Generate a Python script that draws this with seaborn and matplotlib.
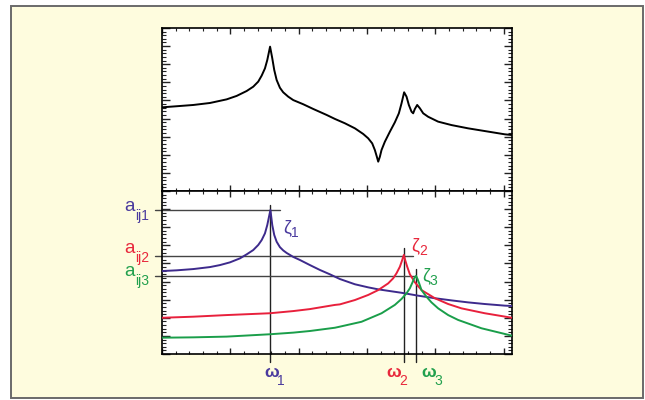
import numpy as np
import pandas as pd
import matplotlib
matplotlib.use("Agg")
import matplotlib.pyplot as plt
from matplotlib.patches import Rectangle
from matplotlib.ticker import MultipleLocator, NullFormatter
import seaborn as sns

# ---------------- data ----------------
# top panel: total frequency response
freq_top = [0.000, 0.215, 0.458, 0.702, 0.946, 1.092, 1.238, 1.335, 1.408, 1.458, 1.506,
            1.540, 1.581, 1.613, 1.642, 1.677, 1.725, 1.773, 1.846, 1.920, 2.066, 2.212,
            2.408, 2.529, 2.675, 2.822, 2.943, 3.016, 3.075, 3.114, 3.143, 3.163, 3.187,
            3.211, 3.260, 3.333, 3.406, 3.465, 3.504, 3.542, 3.577, 3.611, 3.650, 3.674,
            3.699, 3.733, 3.772, 3.821, 3.893, 4.039, 4.235, 4.478, 4.722, 5.015, 5.120]
resp_top = [4.62, 4.68, 4.75, 4.86, 5.06, 5.25, 5.52, 5.76, 6.04, 6.37, 6.77,
            7.23, 7.97, 7.33, 6.68, 6.13, 5.70, 5.45, 5.21, 5.02, 4.79, 4.53,
            4.20, 3.98, 3.74, 3.46, 3.15, 2.91, 2.63, 2.26, 1.89, 1.62, 1.89,
            2.26, 2.72, 3.27, 3.79, 4.29, 4.84, 5.45, 5.21, 4.75, 4.38, 4.29,
            4.53, 4.75, 4.57, 4.29, 4.10, 3.83, 3.64, 3.46, 3.31, 3.13, 3.09]

# bottom panel: individual mode contributions
freq_m1 = [0.000, 0.215, 0.458, 0.702, 0.848, 0.994, 1.140, 1.238, 1.335, 1.408, 1.458,
           1.506, 1.540, 1.586, 1.613, 1.642, 1.677, 1.725, 1.773, 1.823, 1.920, 2.018,
           2.164, 2.310, 2.456, 2.602, 2.822, 3.016, 3.163, 3.504, 3.748, 3.991, 4.235,
           4.478, 4.722, 5.015, 5.120]
amp_m1 = [4.58, 4.62, 4.69, 4.80, 4.91, 5.06, 5.28, 5.50, 5.74, 6.02, 6.29,
          6.66, 7.12, 7.95, 7.12, 6.57, 6.20, 5.90, 5.72, 5.58, 5.36, 5.19,
          4.91, 4.64, 4.40, 4.14, 3.85, 3.68, 3.57, 3.38, 3.22, 3.08, 2.96,
          2.85, 2.76, 2.67, 2.65]

freq_m2 = [0.000, 0.458, 0.946, 1.579, 1.920, 2.164, 2.529, 2.602, 2.822, 3.016, 3.163,
           3.309, 3.382, 3.431, 3.480, 3.514, 3.538, 3.557, 3.587, 3.626, 3.699, 3.796,
           3.991, 4.186, 4.381, 4.722, 5.120]
amp_m2 = [2.00, 2.06, 2.15, 2.25, 2.37, 2.48, 2.71, 2.74, 2.98, 3.26, 3.53,
          3.90, 4.18, 4.46, 4.82, 5.19, 5.47, 5.19, 4.82, 4.40, 3.96, 3.53,
          3.08, 2.76, 2.52, 2.25, 2.00]

freq_m3 = [0.000, 0.458, 0.946, 1.579, 1.920, 2.164, 2.529, 2.602, 2.919, 3.212, 3.406,
           3.504, 3.577, 3.626, 3.665, 3.689, 3.716, 3.738, 3.762, 3.796, 3.869, 3.942,
           4.040, 4.186, 4.332, 4.674, 5.120]
amp_m3 = [0.90, 0.92, 0.96, 1.09, 1.18, 1.27, 1.45, 1.51, 1.78, 2.25, 2.71,
          3.04, 3.35, 3.63, 3.96, 4.18, 4.31, 4.14, 3.90, 3.53, 3.16, 2.85,
          2.52, 2.15, 1.88, 1.42, 1.01]

# peak markers
peak_freq = [1.586, 3.535, 3.716]
peak_amp = [7.95, 5.41, 4.29]
vline_top = [8.23, 5.85, 4.69]
hline_end = [1.725, 3.665, 3.716]
amp_main, amp_sub = "a", ["ij1", "ij2", "ij3"]
damp_main, damp_sub = "ζ", ["1", "2", "3"]
freq_main, freq_sub = "ω", ["1", "2", "3"]
mode_colors = ["#3d2a8c", "#e8203c", "#1a9e4a"]
text_colors = ["#4a3a9e", "#e8283c", "#22a04e"]

# ---------------- style ----------------
sns.set_style("ticks")
plt.rcParams["font.family"] = ["Liberation Sans", "DejaVu Sans"]

fig = plt.figure(figsize=(6.45, 4.0), dpi=100)
fig.patch.set_facecolor("white")
bg = fig.add_axes([0, 0, 1, 1], zorder=-5)
bg.set_xlim(0, 645)
bg.set_ylim(400, 0)
bg.axis("off")
bg.add_patch(Rectangle((11, 6), 632, 392, facecolor="#fefcde",
                       edgecolor="#6a6a6a", linewidth=1.4))

left, width, h = 162 / 645, 350 / 645, 163 / 400
ax_top = fig.add_axes([left, (400 - 191) / 400, width, h])
ax_bot = fig.add_axes([left, (400 - 354) / 400, width, h])

df_top = pd.DataFrame({"f": freq_top, "r": resp_top})
sns.lineplot(data=df_top, x="f", y="r", ax=ax_top, color="black", lw=1.4,
             estimator=None, sort=False)

for fr, am, c in zip([freq_m1, freq_m2, freq_m3], [amp_m1, amp_m2, amp_m3], mode_colors):
    d = pd.DataFrame({"f": fr, "a": am})
    sns.lineplot(data=d, x="f", y="a", ax=ax_bot, color=c, lw=1.4,
                 estimator=None, sort=False, zorder=3)


def label(ax, anchor, main, sub, color, dx, dy, sdx, sdy, main_size=13, weight="normal"):
    """main glyph + subscript, offsets in pixels from a data anchor (baseline aligned)."""
    ax.annotate(main, xy=anchor, xytext=(dx, dy), textcoords="offset pixels",
                ha="left", va="baseline", color=color, fontsize=main_size,
                fontweight=weight, annotation_clip=False)
    ax.annotate(sub, xy=anchor, xytext=(sdx, sdy), textcoords="offset pixels",
                ha="left", va="baseline", color=color, fontsize=10,
                annotation_clip=False)


# reference lines and labels
amp_dy = [-1, 3, 0]
omega_dx = [-6, -17, 5]
zeta_off = [(12.8, -22), (7.2, 6), (5.8, -4)]
for i in range(3):
    ax_bot.plot([-0.10, hline_end[i]], [peak_amp[i], peak_amp[i]], color="#444444",
                lw=1.0, clip_on=False, zorder=2)
    ax_bot.plot([peak_freq[i], peak_freq[i]], [-0.45, vline_top[i]], color="#222222",
                lw=1.0, clip_on=False, zorder=2)
    label(ax_bot, (0, peak_amp[i]), amp_main, amp_sub[i], text_colors[i],
          -38, amp_dy[i], -27, amp_dy[i] - 9, main_size=13.5)
    label(ax_bot, (peak_freq[i], 0), freq_main, freq_sub[i], text_colors[i],
          omega_dx[i], -23, omega_dx[i] + 13, -31, main_size=12.5, weight="bold")
    zx, zy = zeta_off[i]
    label(ax_bot, (peak_freq[i], peak_amp[i]), damp_main, damp_sub[i], text_colors[i],
          zx, zy, zx + 8, zy - 5)

for ax in (ax_top, ax_bot):
    ax.set_facecolor("white")
    ax.set_xlim(0, 5.12)
    ax.set_ylim(0, 9)
    ax.set_xlabel("")
    ax.set_ylabel("")
    ax.xaxis.set_major_locator(MultipleLocator(1))
    ax.xaxis.set_minor_locator(MultipleLocator(0.2))
    ax.yaxis.set_major_locator(MultipleLocator(1))
    ax.yaxis.set_minor_locator(MultipleLocator(0.2))
    ax.xaxis.set_major_formatter(NullFormatter())
    ax.yaxis.set_major_formatter(NullFormatter())
    ax.tick_params(which="both", direction="in", top=True, right=True,
                   bottom=True, left=True, color="#222222")
    ax.tick_params(axis="x", which="major", length=4, width=1.0)
    ax.tick_params(axis="x", which="minor", length=2, width=0.8)
    ax.tick_params(axis="y", which="major", length=6, width=1.0)
    ax.tick_params(axis="y", which="minor", length=3, width=0.8)
    for s in ax.spines.values():
        s.set_visible(True)
        s.set_color("black")
        s.set_linewidth(1.2)

fig.savefig("out.png", dpi=100, facecolor=fig.get_facecolor())
